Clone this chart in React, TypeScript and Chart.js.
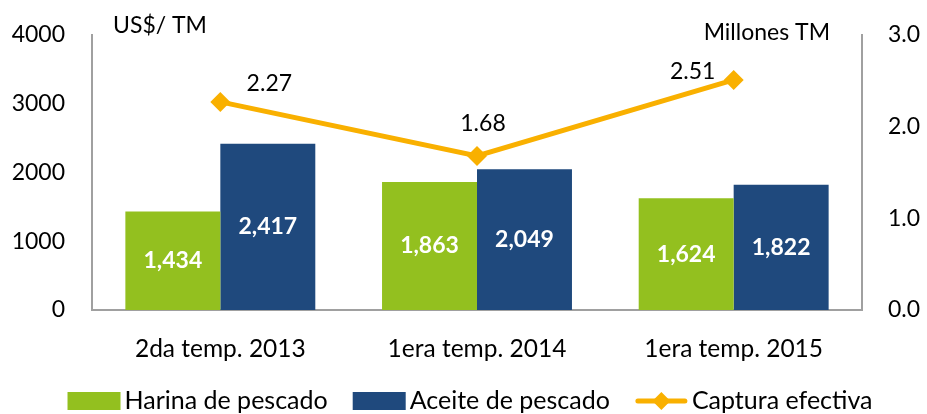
import React, { useEffect, useRef } from "react";
import { Chart, registerables } from "chart.js";

Chart.register(...registerables);

const categories = ["2da temp. 2013", "1era temp. 2014", "1era temp. 2015"];
const harina = [1434, 1863, 1624];
const aceite = [2417, 2049, 1822];
const captura = [2.27, 1.68, 2.51];
const leftTicks = [0, 1000, 2000, 3000, 4000];
const rightTicks = [0, 1, 2, 3];
const seriesNames = ["Harina de pescado", "Aceite de pescado", "Captura efectiva"];
const leftTitle = "US$/ TM";
const rightTitle = "Millones TM";

const GREEN = "#93C01F";
const NAVY = "#1F497D";
const ORANGE = "#F9B000";
const AXIS = "#A0A0A0";
const FONT = "Lato, 'Open Sans', sans-serif";
const FS = 23;
const FS_X = 24.5;
const FS_LEG = 25;

// label offsets for the line values (style config)
const lineLabelOffsets = [
  [49, -18],
  [6, -32],
  [-41, -8],
];

const fmt = (v: number) => v.toLocaleString("en-US");

const labelsPlugin = {
  id: "customLabels",
  afterDatasetsDraw(chart: any) {
    const ctx = chart.ctx;
    ctx.save();
    [0, 1].forEach((di) => {
      const meta = chart.getDatasetMeta(di);
      meta.data.forEach((el: any, i: number) => {
        const v = chart.data.datasets[di].data[i];
        ctx.font = `bold ${FS}px ${FONT}`;
        ctx.fillStyle = "#FFFFFF";
        ctx.textAlign = "center";
        ctx.textBaseline = "middle";
        ctx.fillText(fmt(v), el.x, (el.y + el.base) / 2);
      });
    });
    const lm = chart.getDatasetMeta(2);
    lm.data.forEach((el: any, i: number) => {
      const v = chart.data.datasets[2].data[i];
      ctx.font = `${FS}px ${FONT}`;
      ctx.fillStyle = "#000000";
      ctx.textAlign = "center";
      ctx.textBaseline = "middle";
      ctx.fillText(v.toFixed(2), el.x + lineLabelOffsets[i][0], el.y + lineLabelOffsets[i][1]);
    });
    ctx.restore();
  },
  afterDraw(chart: any) {
    const ctx = chart.ctx;
    const area = chart.chartArea;
    ctx.save();
    ctx.font = `${FS}px ${FONT}`;
    ctx.fillStyle = "#000000";
    ctx.textBaseline = "alphabetic";
    ctx.textAlign = "left";
    ctx.fillText(leftTitle, area.left + 21, 33);
    ctx.textAlign = "right";
    ctx.fillText(rightTitle, area.right - 32, 40);

    // legend
    ctx.font = `${FS_LEG}px ${FONT}`;
    const boxW = 53;
    const boxH = 18;
    const gapText = 4;
    const gapItem = 25;
    const widths = seriesNames.map((n) => ctx.measureText(n).width);
    const total = widths.reduce((a, b) => a + b, 0) + 3 * (boxW + gapText) + 2 * gapItem;
    let x = 470 - total / 2;
    const cy = 401;
    const colors = [GREEN, NAVY, ORANGE];
    seriesNames.forEach((n, i) => {
      if (i < 2) {
        ctx.fillStyle = colors[i];
        ctx.fillRect(x, cy - boxH / 2, boxW, boxH);
      } else {
        ctx.strokeStyle = ORANGE;
        ctx.lineWidth = 5;
        ctx.lineCap = "round";
        ctx.beginPath();
        ctx.moveTo(x + 3, cy);
        ctx.lineTo(x + boxW - 3, cy);
        ctx.stroke();
        ctx.fillStyle = ORANGE;
        ctx.beginPath();
        const cx = x + boxW / 2;
        const r = 9;
        ctx.moveTo(cx, cy - r);
        ctx.lineTo(cx + r, cy);
        ctx.lineTo(cx, cy + r);
        ctx.lineTo(cx - r, cy);
        ctx.closePath();
        ctx.fill();
      }
      ctx.fillStyle = "#000000";
      ctx.textAlign = "left";
      ctx.textBaseline = "middle";
      ctx.fillText(n, x + boxW + gapText, cy);
      x += boxW + gapText + widths[i] + gapItem;
    });
    ctx.restore();
  },
};

const fixVertical = (w: number) => (s: any) => {
  s.width = w;
  s.paddingTop = 0;
  s.paddingBottom = 0;
};

export default function App() {
  const ref = useRef<HTMLCanvasElement | null>(null);
  useEffect(() => {
    if (!ref.current) return;
    const chart = new Chart(ref.current, {
      type: "bar",
      data: {
        labels: categories,
        datasets: [
          {
            type: "bar",
            label: seriesNames[0],
            data: harina,
            backgroundColor: GREEN,
            yAxisID: "y",
            order: 1,
            categoryPercentage: 0.74,
            barPercentage: 1.0,
          },
          {
            type: "bar",
            label: seriesNames[1],
            data: aceite,
            backgroundColor: NAVY,
            yAxisID: "y",
            order: 1,
            categoryPercentage: 0.74,
            barPercentage: 1.0,
          },
          {
            type: "line",
            label: seriesNames[2],
            data: captura,
            borderColor: ORANGE,
            backgroundColor: ORANGE,
            borderWidth: 5,
            pointStyle: "rectRot",
            pointRadius: 10,
            pointHoverRadius: 10,
            pointBorderWidth: 0,
            yAxisID: "y1",
            order: 0,
            tension: 0,
          },
        ] as any,
      },
      options: {
        animation: false,
        responsive: true,
        maintainAspectRatio: false,
        layout: { autoPadding: false, padding: { left: 0, right: 0, top: 35, bottom: 0 } },
        plugins: {
          legend: { display: false },
          tooltip: { enabled: false },
        },
        scales: {
          x: {
            grid: { display: false, drawTicks: false },
            border: { display: true, color: AXIS, width: 2 },
            ticks: { color: "#000", font: { family: FONT, size: FS_X }, padding: 24 },
            afterFit: (s: any) => {
              s.height = 104;
            },
          },
          y: {
            position: "left",
            min: 0,
            max: 4000,
            afterBuildTicks: (s: any) => {
              s.ticks = leftTicks.map((v) => ({ value: v }));
            },
            grid: { display: false, drawTicks: false },
            border: { display: true, color: AXIS, width: 2 },
            ticks: {
              color: "#000",
              font: { family: FONT, size: FS },
              padding: 27,
              callback: (v: any) => String(v),
            },
            afterFit: fixVertical(92),
          },
          y1: {
            position: "right",
            min: 0,
            max: 3,
            afterBuildTicks: (s: any) => {
              s.ticks = rightTicks.map((v) => ({ value: v }));
            },
            grid: { display: false, drawTicks: false },
            border: { display: true, color: AXIS, width: 2 },
            ticks: {
              color: "#000",
              font: { family: FONT, size: FS },
              padding: 26,
              callback: (v: any) => Number(v).toFixed(1),
            },
            afterFit: fixVertical(65),
          },
        },
      } as any,
      plugins: [labelsPlugin],
    });
    return () => chart.destroy();
  }, []);
  return (
    <div style={{ position: "fixed", left: 0, top: 0, width: 927, height: 414, background: "#fff" }}>
      <canvas ref={ref} />
    </div>
  );
}
